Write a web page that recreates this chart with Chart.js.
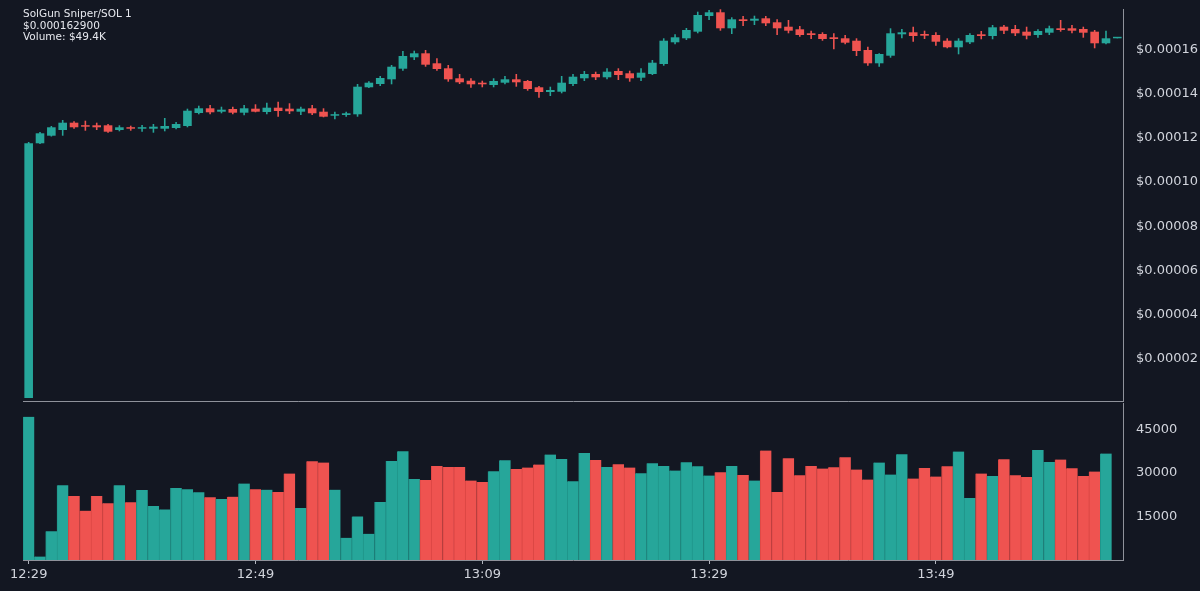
<!DOCTYPE html>
<html lang="en">
<head>
<meta charset="UTF-8">
<title>SolGun Sniper/SOL 1</title>
<script src="https://cdn.jsdelivr.net/npm/chart.js"></script>
<style>
    html, body {
        margin: 0;
        padding: 0;
        background: #131722;
    }
    body {
        width: 1200px;
        height: 591px;
        position: relative;
        overflow: hidden;
        font-family: 'DejaVu Sans', sans-serif;
    }
    #priceChart { position: absolute; left: 0; top: 0; }
    #volumeChart { position: absolute; left: 0; top: 402px; }
    .info {
        position: absolute;
        left: 23px;
        top: 8px;
        color: #e6e8ee;
        font-size: 10.5px;
        line-height: 11.5px;
    }
</style>
</head>
<body>
<canvas id="priceChart" width="1200" height="402"></canvas>
<canvas id="volumeChart" width="1200" height="189"></canvas>
<div class="info">SolGun Sniper/SOL 1<br>$0.000162900<br>Volume: $49.4K</div>

<script>
// minutes (one candle each)
const times = [
    '12:29','12:30','12:31','12:32','12:33','12:34','12:35','12:36','12:37','12:38',
    '12:39','12:40','12:41','12:42','12:43','12:44','12:45','12:46','12:47','12:48',
    '12:49','12:50','12:51','12:52','12:53','12:54','12:55','12:56','12:57','12:58',
    '12:59','13:00','13:01','13:02','13:03','13:04','13:05','13:06','13:07','13:08',
    '13:09','13:10','13:11','13:12','13:13','13:14','13:15','13:16','13:17','13:18',
    '13:19','13:20','13:21','13:22','13:23','13:24','13:25','13:26','13:27','13:28',
    '13:29','13:30','13:31','13:32','13:33','13:34','13:35','13:36','13:37','13:38',
    '13:39','13:40','13:41','13:42','13:43','13:44','13:45','13:46','13:47','13:48',
    '13:49','13:50','13:51','13:52','13:53','13:54','13:55','13:56','13:57','13:58',
    '13:59','14:00','14:01','14:02','14:03','14:04','14:05'
];
const tickLabels = ['12:29', '12:49', '13:09', '13:29', '13:49'];

// prices in units of 1e-7 SOL
const open = [
    23.6, 1175.6, 1209.9, 1235.7, 1268.8, 1257.0, 1257.0, 1257.0, 1235.7, 1248.0,
    1241.6, 1241.6, 1241.6, 1244.8, 1253.8, 1312.6, 1333.9, 1318.5, 1330.7, 1314.0,
    1332.1, 1317.1, 1336.6, 1332.1, 1318.5, 1333.9, 1318.5, 1300.4, 1303.6, 1306.7,
    1428.9, 1443.8, 1465.0, 1513.0, 1564.6, 1582.6, 1537.4, 1514.8, 1469.6, 1458.7,
    1449.7, 1439.3, 1449.7, 1465.0, 1457.4, 1428.9, 1407.6, 1408.9, 1443.8, 1469.6,
    1489.0, 1474.1, 1502.6, 1492.2, 1472.3, 1489.0, 1534.3, 1632.4, 1650.5, 1680.4,
    1751.4, 1768.1, 1695.7, 1736.4, 1730.1, 1740.9, 1722.9, 1702.9, 1691.2, 1673.1,
    1669.9, 1655.0, 1650.5, 1639.6, 1597.6, 1537.4, 1571.8, 1668.6, 1677.6, 1669.9,
    1665.4, 1639.6, 1609.8, 1632.4, 1668.6, 1660.9, 1702.9, 1692.6, 1680.4, 1665.4,
    1675.8, 1695.7, 1695.7, 1692.6, 1680.4, 1627.9, 1650.5
];
const high = [
    1181.5, 1226.7, 1253.8, 1281.0, 1275.1, 1277.8, 1268.8, 1262.9, 1257.0, 1255.2,
    1258.3, 1262.9, 1290.0, 1271.9, 1332.1, 1345.6, 1348.8, 1341.1, 1341.1, 1348.8,
    1352.0, 1359.2, 1363.7, 1356.5, 1341.1, 1348.8, 1333.9, 1318.5, 1318.5, 1443.8,
    1456.0, 1480.0, 1529.7, 1593.1, 1594.4, 1597.6, 1560.0, 1529.7, 1489.0, 1469.6,
    1458.7, 1469.6, 1480.0, 1489.0, 1461.9, 1434.7, 1431.6, 1480.0, 1489.0, 1502.6,
    1499.4, 1514.8, 1514.8, 1503.9, 1514.8, 1552.3, 1650.5, 1668.6, 1697.1, 1770.8,
    1778.5, 1781.7, 1745.5, 1751.4, 1752.7, 1751.4, 1736.4, 1733.3, 1706.1, 1684.9,
    1677.6, 1673.1, 1665.4, 1650.5, 1612.5, 1582.6, 1695.7, 1692.6, 1702.9, 1684.9,
    1677.6, 1650.5, 1650.5, 1673.1, 1683.5, 1710.6, 1710.6, 1710.6, 1702.9, 1691.2,
    1707.5, 1733.3, 1710.6, 1702.9, 1688.0, 1684.9, 1652.0
];
const low = [
    23.6, 1172.4, 1206.3, 1209.9, 1241.6, 1232.6, 1235.7, 1223.5, 1229.8, 1232.6,
    1228.0, 1223.5, 1229.8, 1238.9, 1248.0, 1306.7, 1306.7, 1311.3, 1306.7, 1302.2,
    1315.8, 1306.7, 1295.9, 1308.1, 1303.6, 1303.6, 1293.2, 1284.1, 1295.9, 1295.9,
    1425.7, 1434.7, 1442.4, 1503.9, 1552.3, 1522.0, 1503.9, 1454.2, 1443.8, 1427.1,
    1428.9, 1428.9, 1442.4, 1431.6, 1413.5, 1381.8, 1389.5, 1401.7, 1434.7, 1457.4,
    1461.9, 1465.0, 1461.9, 1454.2, 1457.4, 1484.5, 1526.5, 1623.3, 1642.8, 1673.1,
    1733.3, 1684.9, 1669.9, 1706.1, 1710.6, 1706.1, 1665.4, 1673.1, 1657.7, 1647.3,
    1639.6, 1600.7, 1623.3, 1570.4, 1526.5, 1522.0, 1562.7, 1650.5, 1635.1, 1647.3,
    1617.0, 1605.3, 1578.1, 1624.7, 1646.0, 1646.0, 1669.9, 1660.9, 1646.0, 1653.2,
    1665.4, 1680.4, 1673.1, 1653.2, 1605.3, 1623.3, 1650.5
];
const close = [
    1175.6, 1220.8, 1248.0, 1268.8, 1248.0, 1250.7, 1248.0, 1228.0, 1248.0, 1241.6,
    1248.0, 1250.7, 1253.8, 1262.9, 1323.0, 1333.9, 1315.8, 1327.6, 1314.0, 1333.9,
    1318.5, 1336.6, 1321.7, 1320.3, 1332.1, 1311.3, 1295.9, 1306.7, 1311.3, 1431.6,
    1449.7, 1470.9, 1522.0, 1570.4, 1582.6, 1531.1, 1511.6, 1465.0, 1451.5, 1442.4,
    1442.4, 1457.4, 1465.0, 1451.5, 1421.2, 1407.6, 1416.7, 1449.7, 1476.8, 1489.0,
    1474.1, 1499.4, 1484.5, 1469.6, 1494.9, 1540.1, 1639.6, 1655.0, 1688.0, 1755.9,
    1768.1, 1695.7, 1736.4, 1728.7, 1739.1, 1718.3, 1695.7, 1684.9, 1665.4, 1665.4,
    1647.3, 1647.3, 1630.6, 1593.1, 1537.4, 1579.5, 1673.1, 1677.6, 1660.9, 1662.3,
    1635.1, 1609.8, 1639.6, 1665.4, 1660.9, 1700.2, 1684.9, 1673.1, 1662.3, 1683.5,
    1695.7, 1688.0, 1684.9, 1675.8, 1627.9, 1650.5, 1652.0
];
const volume = [
    49240, 1200, 9930, 25690, 22000, 16960, 22000, 19480, 25690, 19830,
    24070, 18560, 17410, 24760, 24310, 23270, 21550, 20970, 21790, 26270,
    24310, 24200, 23380, 29720, 17860, 33960, 33510, 24200, 7650, 15000,
    9030, 19930, 34070, 37410, 27860, 27520, 32340, 32000, 32000, 27310,
    26830, 30510, 34310, 31310, 31790, 32820, 36270, 34760, 27070, 36830,
    34410, 32000, 32930, 31790, 29830, 33270, 32340, 30750, 33620, 32240,
    29030, 30170, 32340, 29240, 27310, 37650, 23380, 35000, 29140, 32340,
    31450, 31900, 35340, 31100, 27650, 33510, 29380, 36380, 28000, 31650,
    28690, 32240, 37310, 21310, 29720, 28890, 34650, 29140, 28550, 37860,
    33720, 34550, 31550, 28890, 30410, 36620, 0
];
const priceTicks = [200, 400, 600, 800, 1000, 1200, 1400, 1600];
const volumeTicks = [15000, 30000, 45000];

Chart.defaults.font.family = "'DejaVu Sans', sans-serif";
Chart.defaults.font.size = 13;
Chart.defaults.color = '#d1d4dc';

const UP = '#26a69a';
const DOWN = '#ef5350';
const AXIS = '#8f929b';

const isUp = open.map((o, i) => close[i] >= o);
const candleColor = isUp.map(u => u ? UP : DOWN);
const edgeColor = isUp.map(u => u ? '#20968b' : '#dc4744');

// y axes: fixed width, no extra room for half labels
function fixY(s) {
    s.width = 77;
    s.paddingTop = 0;
    s.paddingBottom = 0;
}

// price panel: bodies and wicks as floating bars
new Chart(document.getElementById('priceChart'), {
    type: 'bar',
    data: {
        labels: times,
        datasets: [
            {
                label: 'body',
                data: open.map((o, i) => [o, close[i]]),
                backgroundColor: candleColor,
                barPercentage: 0.76,
                categoryPercentage: 1,
                grouped: false,
                minBarLength: 1.5,
                order: 0
            },
            {
                label: 'wick',
                data: low.map((l, i) => [l, high[i]]),
                backgroundColor: candleColor,
                barPercentage: 0.14,
                categoryPercentage: 1,
                grouped: false,
                order: 1
            }
        ]
    },
    options: {
        responsive: false,
        animation: false,
        devicePixelRatio: 1,
        layout: { padding: { left: 23, top: 9, right: 0, bottom: 1 } },
        plugins: { legend: { display: false }, tooltip: { enabled: false } },
        scales: {
            x: {
                offset: true,
                grid: { display: false },
                ticks: { display: false },
                border: { display: true, color: AXIS },
                afterFit: s => { s.height = 0; s.paddingLeft = 0; s.paddingRight = 0; }
            },
            y: {
                position: 'right',
                min: 10,
                max: 1783,
                grid: { display: false },
                border: { color: AXIS },
                ticks: { padding: 5, callback: v => '$' + (v * 1e-7).toFixed(5) },
                afterBuildTicks: s => { s.ticks = priceTicks.map(v => ({ value: v })); },
                afterFit: fixY
            }
        }
    }
});

// volume panel
new Chart(document.getElementById('volumeChart'), {
    type: 'bar',
    data: {
        labels: times,
        datasets: [{
            label: 'volume',
            data: volume,
            backgroundColor: candleColor,
            borderColor: edgeColor,
            borderWidth: { left: 1, right: 0, top: 0, bottom: 0 },
            borderSkipped: false,
            barPercentage: 1,
            categoryPercentage: 1
        }]
    },
    options: {
        responsive: false,
        animation: false,
        devicePixelRatio: 1,
        layout: { padding: { left: 23, top: 1, right: 0, bottom: 0 } },
        plugins: { legend: { display: false }, tooltip: { enabled: false } },
        scales: {
            x: {
                offset: true,
                grid: {
                    display: true,
                    drawOnChartArea: false,
                    drawTicks: true,
                    tickLength: 4,
                    offset: false,
                    color: '#b2b5be'
                },
                border: { color: AXIS },
                ticks: { padding: 3, maxRotation: 0, autoSkip: false },
                afterBuildTicks: s => { s.ticks = tickLabels.map(t => ({ value: times.indexOf(t) })); },
                afterFit: s => { s.height = 31; s.paddingLeft = 0; s.paddingRight = 0; }
            },
            y: {
                position: 'right',
                min: 0,
                max: 54000,
                grid: { display: false },
                border: { color: AXIS },
                ticks: { padding: 5, callback: v => String(v) },
                afterBuildTicks: s => { s.ticks = volumeTicks.map(v => ({ value: v })); },
                afterFit: fixY
            }
        }
    }
});
</script>
</body>
</html>
